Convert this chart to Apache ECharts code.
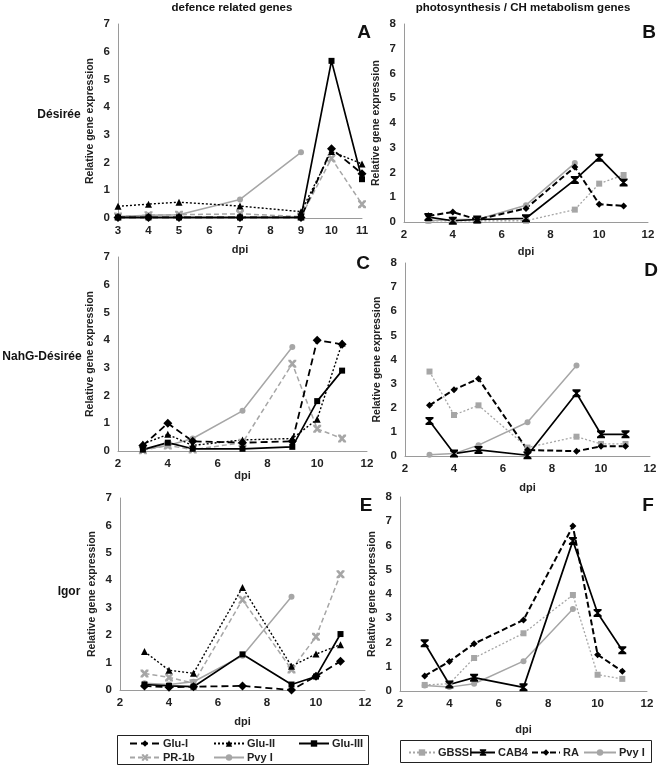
<!DOCTYPE html>
<html><head><meta charset="utf-8">
<script src="https://cdn.jsdelivr.net/npm/echarts@6/dist/echarts.min.js"></script>
<style>html,body{margin:0;padding:0;background:#fff}#c{width:661px;height:766px}</style>
</head><body><div id="c"></div>
<script>
// ---- data ----
const dpi = [3, 4, 5, 7, 9, 10, 11];
const dpiPvy = [3, 4, 5, 7, 9];
const xTicksA = [3, 4, 5, 6, 7, 8, 9, 10, 11];
const xTicksOther = [2, 4, 6, 8, 10, 12];

// Panel A (Désirée, defence)
const gluI_A   = [0.02, 0.02, 0.02, 0.02, 0.02, 2.5, 1.6];
const gluII_A  = [0.42, 0.5, 0.57, 0.43, 0.23, 2.4, 1.95];
const gluIII_A = [0.02, 0.02, 0.02, 0.02, 0.02, 5.67, 1.4];
const pr1b_A   = [0.05, 0.1, 0.12, 0.15, 0.05, 2.15, 0.5];
const pvy_A    = [0.05, 0.1, 0.12, 0.67, 2.37];
// Panel B (Désirée, photosynthesis)
const gbssi_B = [0.05, 0.05, 0.05, 0.05, 0.5, 1.55, 1.9];
const cab4_B  = [0.2, 0.05, 0.1, 0.15, 1.7, 2.6, 1.6];
const ra_B    = [0.25, 0.4, 0.1, 0.55, 2.22, 0.72, 0.65];
const pvy_B   = [0.05, 0.1, 0.1, 0.68, 2.38];
// Panel C (NahG-Désirée, defence)
const gluI_C   = [0.2, 1.0, 0.35, 0.3, 0.35, 4.0, 3.85];
const gluII_C  = [0.25, 0.6, 0.2, 0.4, 0.45, 1.15, 3.9];
const gluIII_C = [0.05, 0.3, 0.08, 0.08, 0.15, 1.8, 2.9];
const pr1b_C   = [0.03, 0.2, 0.05, 0.3, 3.15, 0.8, 0.45];
const pvy_C    = [0.05, 0.2, 0.45, 1.45, 3.75];
// Panel D (NahG-Désirée, photosynthesis)
const gbssi_D = [3.5, 1.7, 2.1, 0.35, 0.8, 0.5, 0.5];
const cab4_D  = [1.45, 0.1, 0.25, 0.03, 2.6, 0.9, 0.9];
const ra_D    = [2.1, 2.75, 3.2, 0.25, 0.2, 0.4, 0.4];
const pvy_D   = [0.05, 0.1, 0.45, 1.4, 3.75];
// Panel E (Igor, defence)
const gluI_E   = [0.15, 0.1, 0.12, 0.15, 0.0, 0.5, 1.05];
const gluII_E  = [1.4, 0.72, 0.61, 3.74, 0.87, 1.31, 1.65];
const gluIII_E = [0.2, 0.15, 0.12, 1.3, 0.2, 0.49, 2.04];
const pr1b_E   = [0.6, 0.46, 0.25, 3.29, 0.75, 1.94, 4.22];
const pvy_E    = [0.25, 0.2, 0.3, 1.25, 3.4];
// Panel F (Igor, photosynthesis)
const gbssi_F = [0.25, 0.3, 1.36, 2.38, 3.96, 0.67, 0.5];
const cab4_F  = [1.97, 0.27, 0.55, 0.15, 6.19, 3.22, 1.68];
const ra_F    = [0.62, 1.22, 1.95, 2.93, 6.8, 1.5, 0.81];
const pvy_F   = [0.23, 0.16, 0.3, 1.23, 3.38];

const colTitles = ['defence related genes', 'photosynthesis / CH metabolism genes'];
const rowLabels = ['Désirée', 'NahG-Désirée', 'Igor'];
const panelLetters = ['A', 'B', 'C', 'D', 'E', 'F'];
const yName = 'Relative gene expression';
const xName = 'dpi';

// ---- styles ----
const FONT = "'Liberation Sans Narrow','Liberation Sans',Arial,sans-serif";
const FONTW = "'Liberation Sans',Arial,sans-serif";
const GRAY = '#a6a6a6';
const xPath = 'path://M0,0 L3,0 L5,2.5 L7,0 L10,0 L10,2 L7,5 L10,8 L10,10 L7,10 L5,7.5 L3,10 L0,10 L0,8 L3,5 L0,2 Z';
const hourglass = 'path://M0,0 L10,0 L10,2 L6.2,5 L10,8 L10,10 L0,10 L0,8 L3.8,5 L0,2 Z';
const STY = {
  'Glu-I':  {color:'#000', lineStyle:{type:[7,4], width:1.8}, symbol:'diamond', symbolSize:9},
  'Glu-II': {color:'#000', lineStyle:{type:[2,2], width:1.4}, symbol:'triangle', symbolSize:7},
  'Glu-III':{color:'#000', lineStyle:{type:'solid', width:1.7}, symbol:'rect', symbolSize:6},
  'PR-1b':  {color:GRAY, lineStyle:{type:[5,3], width:1.5}, symbol:xPath, symbolSize:8},
  'Pvy I':  {color:GRAY, lineStyle:{type:'solid', width:1.5}, symbol:'circle', symbolSize:6},
  'GBSSI':  {color:GRAY, lineStyle:{type:[2,2], width:1.3}, symbol:'rect', symbolSize:6},
  'CAB4':   {color:'#000', lineStyle:{type:'solid', width:1.7}, symbol:hourglass, symbolSize:8},
  'RA':     {color:'#000', lineStyle:{type:[6,3], width:2}, symbol:'diamond', symbolSize:7}
};

const grids = [
  {left:118, top:24, width:244, height:194},
  {left:404, top:24, width:244, height:198},
  {left:118, top:257, width:249, height:194},
  {left:405, top:263, width:245, height:193},
  {left:120, top:498, width:245, height:192},
  {left:400, top:497, width:247, height:194}
];

function mk(name, xs, ys, gi) {
  const s = STY[name];
  return {
    name, type:'line', xAxisIndex:gi, yAxisIndex:gi, animation:false,
    data: xs.map((x, i) => [x, ys[i]]),
    symbol:s.symbol, symbolSize:s.symbolSize, showSymbol:true,
    itemStyle:{color:s.color},
    lineStyle:{color:s.color, width:s.lineStyle.width, type:s.lineStyle.type}
  };
}

const series = [
  mk('Pvy I', dpiPvy, pvy_A, 0), mk('PR-1b', dpi, pr1b_A, 0), mk('Glu-II', dpi, gluII_A, 0), mk('Glu-III', dpi, gluIII_A, 0), mk('Glu-I', dpi, gluI_A, 0),
  mk('Pvy I', dpiPvy, pvy_B, 1), mk('GBSSI', dpi, gbssi_B, 1), mk('CAB4', dpi, cab4_B, 1), mk('RA', dpi, ra_B, 1),
  mk('Pvy I', dpiPvy, pvy_C, 2), mk('PR-1b', dpi, pr1b_C, 2), mk('Glu-II', dpi, gluII_C, 2), mk('Glu-III', dpi, gluIII_C, 2), mk('Glu-I', dpi, gluI_C, 2),
  mk('Pvy I', dpiPvy, pvy_D, 3), mk('GBSSI', dpi, gbssi_D, 3), mk('CAB4', dpi, cab4_D, 3), mk('RA', dpi, ra_D, 3),
  mk('Pvy I', dpiPvy, pvy_E, 4), mk('PR-1b', dpi, pr1b_E, 4), mk('Glu-II', dpi, gluII_E, 4), mk('Glu-III', dpi, gluIII_E, 4), mk('Glu-I', dpi, gluI_E, 4),
  mk('Pvy I', dpiPvy, pvy_F, 5), mk('GBSSI', dpi, gbssi_F, 5), mk('CAB4', dpi, cab4_F, 5), mk('RA', dpi, ra_F, 5)
];

const labelStyle = {fontFamily:FONT, fontWeight:'bold', fontSize:11.5, color:'#222'};
const xAxes = grids.map((g, i) => {
  const isA = i === 0;
  const ticks = isA ? xTicksA : xTicksOther;
  return {
    type:'value', gridIndex:i, min:ticks[0], max:ticks[ticks.length-1], interval:ticks[1]-ticks[0],
    axisLine:{show:true, onZero:true, lineStyle:{color:'#9a9a9a', width:1}},
    axisTick:{show:false}, splitLine:{show:false},
    axisLabel:{...labelStyle, margin:7, showMinLabel:true, showMaxLabel:true},
    name:xName, nameLocation:'middle', nameGap:[26,24,19,26,26,33][i],
    nameTextStyle:{fontFamily:FONTW, fontWeight:'bold', fontSize:11, color:'#222'}
  };
});
const yAxes = grids.map((g, i) => {
  const left = i % 2 === 0;
  return {
    type:'value', gridIndex:i, min:0, max:left ? 7 : 8, interval:1,
    axisLine:{show:true, lineStyle:{color:'#9a9a9a', width:1}},
    axisTick:{show:false}, splitLine:{show:false},
    axisLabel:{...labelStyle, margin:8},
    name:yName, nameLocation:'middle', nameGap:22,
    nameTextStyle:{fontFamily:FONTW, fontWeight:'bold', fontSize:10.5, color:'#222'}
  };
});

function leg(name, left, top, w) {
  return {
    data:[name], left, top, itemWidth:w || 30, itemHeight:8, itemGap:4, padding:0,
    selectedMode:false,
    textStyle:{fontFamily:FONT, fontWeight:'bold', fontSize:11, color:'#222', padding:[0,0,0,-2]}
  };
}
const legends = [
  leg('Glu-I', 129, 738), leg('Glu-II', 213, 738), leg('Glu-III', 298, 738),
  leg('PR-1b', 129, 752), leg('Pvy I', 213, 752),
  leg('GBSSI', 408, 747, 26), leg('CAB4', 470, 747, 24), leg('RA', 531, 747, 28), leg('Pvy I', 583, 747, 32)
];

const txt = (text, x, y, size, align) => ({
  type:'text', x, y, silent:true,
  style:{text, fontFamily:FONTW, fontWeight:'bold', fontSize:size, fill:'#111', textAlign:align || 'center', textVerticalAlign:'middle'}
});
const letterPos = [[364, 33], [649, 33], [363, 264], [651, 271], [366, 506], [648, 506]];
const graphic = [
  txt(colTitles[0], 232, 8, 11.5),
  txt(colTitles[1], 523, 8, 11.5),
  txt(rowLabels[0], 59, 115, 12),
  txt(rowLabels[1], 42, 357, 12),
  txt(rowLabels[2], 69, 592, 12),
  ...panelLetters.map((l, i) => txt(l, letterPos[i][0], letterPos[i][1], 19)),
  {type:'rect', shape:{x:117.5, y:735.5, width:251, height:29}, style:{fill:'none', stroke:'#222', lineWidth:1}, silent:true},
  {type:'rect', shape:{x:400.5, y:740.5, width:251, height:22}, style:{fill:'none', stroke:'#222', lineWidth:1}, silent:true}
];

const chart = echarts.init(document.getElementById('c'), null, {renderer:'canvas'});
chart.setOption({
  animation:false, backgroundColor:'#fff',
  grid:grids, xAxis:xAxes, yAxis:yAxes, series, legend:legends, graphic
});
</script></body></html>
